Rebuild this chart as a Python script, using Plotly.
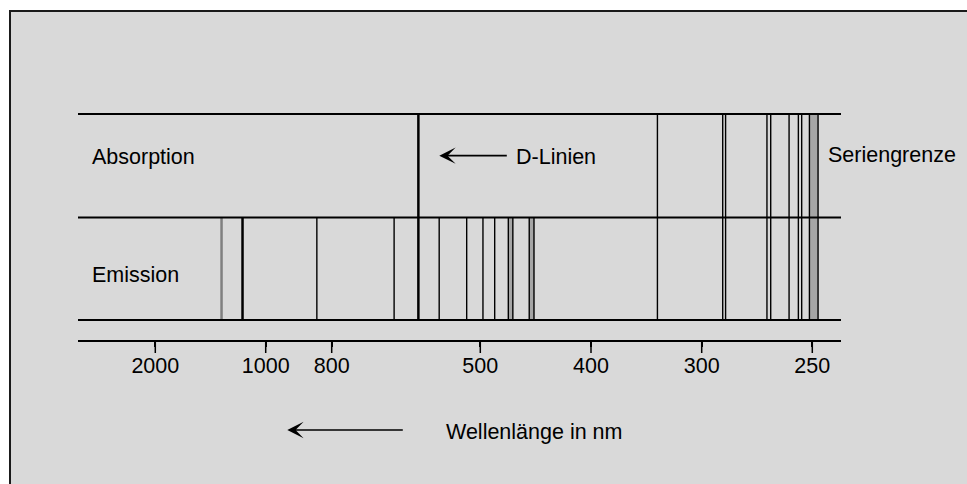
import numpy as np
import plotly.graph_objects as go

W, H = 967, 484
FONT = "Arial, Liberation Sans, Helvetica, sans-serif"

# ---- schematic (non-linear) wavelength axis: tick labels in nm ----
tick_nm = [2000, 1000, 800, 500, 400, 300, 250]
tick_labels = ["2000", "1000", "800", "500", "400", "300", "250"]
tick_pos = [155.3, 265.7, 331.7, 480.3, 591.0, 701.7, 812.3]   # axis calibration
axis_range = [78, 841]

# ---- spectral lines (wavelengths in nm) ----
# present in absorption AND emission
both_thin_nm = [340.0, 290.5, 289.2, 270.5, 268.8, 260.5, 256.3, 254.8]
both_thick_nm = [625.0]                 # D-Linien
both_band_nm = [(251.3, 247.4)]         # Seriengrenze
# emission only
em_thin_nm = [845.0, 674.0, 583.0, 527.5, 497.6, 487.0]
em_thick_nm = [1210.0]
em_gray_nm = [1400.0]
em_band_nm = [(474.7, 470.6), (455.8, 451.5)]

row_labels = ["Absorption", "Emission"]


def nm_to_pos(v):
    xs = tick_nm[::-1]
    ps = tick_pos[::-1]
    if v < xs[0]:
        s = (ps[1] - ps[0]) / (xs[1] - xs[0])
        return ps[0] + (v - xs[0]) * s
    if v > xs[-1]:
        s = (ps[-1] - ps[-2]) / (xs[-1] - xs[-2])
        return ps[-1] + (v - xs[-1]) * s
    return float(np.interp(v, xs, ps))


Y_TOP, Y_MID, Y_BOT = 114, 217.5, 320
AXIS_Y = 340.7
TICK_END = 353


def vsegs(nms, y0, y1):
    xs, ys = [], []
    for v in nms:
        p = nm_to_pos(v)
        xs += [p, p, None]
        ys += [y0, y1, None]
    return xs, ys


fig = go.Figure()

# gray bands (fill + dark edges)
for bands, y0 in [(both_band_nm, Y_TOP), (em_band_nm, Y_MID)]:
    for a, b in bands:
        pa, pb = nm_to_pos(a), nm_to_pos(b)
        fig.add_trace(go.Scatter(x=[pa, pb, pb, pa, pa], y=[y0, y0, Y_BOT, Y_BOT, y0],
                                 xaxis="x2", yaxis="y", mode="lines", fill="toself",
                                 fillcolor="#a6a6a6", line=dict(width=0),
                                 hoverinfo="skip", showlegend=False))
        xs, ys = vsegs([a, b], y0, Y_BOT)
        fig.add_trace(go.Scatter(x=xs, y=ys, xaxis="x2", yaxis="y", mode="lines",
                                 line=dict(color="black", width=1.4),
                                 hoverinfo="skip", showlegend=False))

# vertical lines
groups = [
    (both_thin_nm, Y_TOP, "black", 1.4),
    (both_thick_nm, Y_TOP, "black", 2.5),
    (em_thin_nm, Y_MID, "black", 1.4),
    (em_thick_nm, Y_MID, "black", 2.5),
    (em_gray_nm, Y_MID, "#808080", 2.5),
]
for nms, y0, col, w in groups:
    xs, ys = vsegs(nms, y0, Y_BOT)
    fig.add_trace(go.Scatter(x=xs, y=ys, xaxis="x2", yaxis="y", mode="lines",
                             line=dict(color=col, width=w),
                             hoverinfo="skip", showlegend=False))

# horizontal frame lines of both spectra
hx, hy = [], []
for yy in [Y_TOP, Y_MID, Y_BOT]:
    hx += [axis_range[0], axis_range[1], None]
    hy += [yy, yy, None]
fig.add_trace(go.Scatter(x=hx, y=hy, xaxis="x2", yaxis="y", mode="lines",
                         line=dict(color="black", width=2),
                         hoverinfo="skip", showlegend=False))

# tick marks of the wavelength axis
tx, ty = [], []
for p in tick_pos:
    tx += [p, p, None]
    ty += [AXIS_Y, TICK_END, None]
fig.add_trace(go.Scatter(x=tx, y=ty, xaxis="x2", yaxis="y", mode="lines",
                         line=dict(color="black", width=1.5),
                         hoverinfo="skip", showlegend=False))

# background panel with border on top/left
fig.add_shape(type="rect", xref="x", yref="y", x0=10, y0=11, x1=W + 10, y1=H + 10,
              fillcolor="#d9d9d9", line=dict(color="#1a1a1a", width=2), layer="below")

annots = []
txt = dict(color="black", size=21.5, family=FONT)
annots.append(dict(x=90, y=157, xref="x", yref="y", text=row_labels[0], showarrow=False,
                   xanchor="left", yanchor="middle", font=txt))
annots.append(dict(x=90, y=274.5, xref="x", yref="y", text=row_labels[1], showarrow=False,
                   xanchor="left", yanchor="middle", font=txt))
annots.append(dict(x=514, y=156.5, xref="x", yref="y", text="D-Linien", showarrow=False,
                   xanchor="left", yanchor="middle", font=txt))
annots.append(dict(x=826, y=155, xref="x", yref="y", text="Seriengrenze", showarrow=False,
                   xanchor="left", yanchor="middle", font=txt))
annots.append(dict(x=444, y=431.5, xref="x", yref="y", text="Wellenlänge in nm", showarrow=False,
                   xanchor="left", yanchor="middle", font=txt))
# arrows
for (ax_tip, ay_tip, sx) in [(439.3, 155.7, 508.3), (287.3, 430, 404.3)]:
    annots.append(dict(x=ax_tip, y=ay_tip, ax=sx, ay=ay_tip, xref="x", yref="y", axref="x", ayref="y",
                       text="", showarrow=True, arrowhead=3, arrowsize=1.6, arrowwidth=1.7,
                       arrowcolor="black", standoff=0))

fig.update_layout(
    width=W, height=H, autosize=False,
    margin=dict(l=0, r=0, t=0, b=0, pad=0),
    paper_bgcolor="white", plot_bgcolor="rgba(0,0,0,0)",
    showlegend=False,
    xaxis=dict(range=[0, W], domain=[0, 1], visible=False, fixedrange=True),
    yaxis=dict(range=[H, 0], domain=[0, 1], visible=False, fixedrange=True),
    xaxis2=dict(range=axis_range, domain=[axis_range[0] / W, axis_range[1] / W],
                anchor="free", position=1 - AXIS_Y / H,
                showline=True, linecolor="black", linewidth=2,
                ticks="outside", ticklen=5, tickwidth=1.5, tickcolor="black",
                tickmode="array", tickvals=tick_pos, ticktext=tick_labels,
                tickfont=dict(color="black", size=21.5, family=FONT),
                showgrid=False, zeroline=False, fixedrange=True),
    annotations=annots,
)

fig.write_html("out.html")
